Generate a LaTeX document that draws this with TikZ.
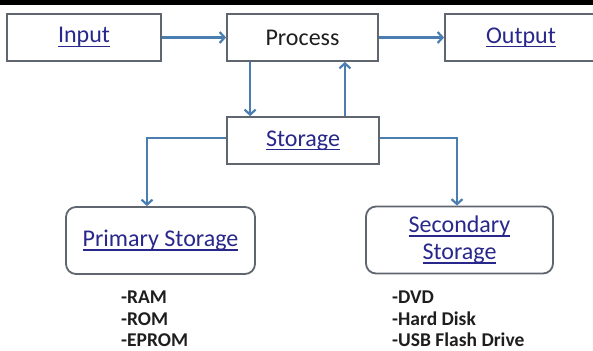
\documentclass[tikz,border=0pt]{standalone}
\usepackage{fontspec}
\setmainfont{Carlito}
\usetikzlibrary{arrows.meta}
\definecolor{boxc}{RGB}{95,102,112}
\definecolor{arrc}{RGB}{74,126,176}
\definecolor{lnkc}{RGB}{40,40,140}
\definecolor{txtc}{RGB}{30,30,30}
\newcommand\lnktxt[1]{\setbox0\hbox{#1}\rlap{\vrule height -2.6pt depth 4.4pt width \wd0}\box0}
\tikzset{
  blk/.style={draw=boxc, line width=1.8pt, fill=white, inner sep=0pt,
    minimum height=47pt, font=\fontsize{24}{27}\selectfont, text=lnkc},
  rblk/.style={blk, rounded corners=10pt, minimum height=67pt, align=center},
  arr/.style={draw=arrc, line width=2.2pt, -{Straight Barb[length=5pt,width=11pt,line width=2.2pt]}},
  lst/.style={anchor=base west, inner sep=0pt, font=\fontsize{19.5}{22}\selectfont\bfseries, text=txtc}
}
\begin{document}
\begin{tikzpicture}[x=1pt,y=-1pt]
\useasboundingbox (0,0) rectangle (593,350);
\fill[black] (0,0) rectangle (593,5);
\node[blk, minimum width=154pt] (input) at (84,37.5) {\lnktxt{Input}};
\node[blk, minimum width=151pt, text=txtc] (process) at (302.5,37.5) {Process};
\node[blk, minimum width=152pt] (output) at (521,37.5) {\lnktxt{Output}};
\node[blk, minimum width=152pt] (storage) at (303,140.5) {\lnktxt{Storage}};
\node[rblk, minimum width=189pt] (primary) at (160.5,240.5) {\lnktxt{Primary Storage}};
\node[rblk, minimum width=187pt] (secondary) at (459.5,240) {\lnktxt{Secondary}\\\lnktxt{Storage}};
\draw[arr] (input.east) -- (process.west);
\draw[arr] (process.east) -- (output.west);
\draw[arr] ([xshift=24pt]process.south west) -- ([xshift=24pt]storage.north west);
\draw[arr] ([xshift=-35pt]storage.north east) -- ([xshift=-35pt]storage.north east |- process.south);
\draw[arr] ([yshift=2.5pt]storage.west) -| ([xshift=-13.5pt]primary.north);
\draw[arr] ([yshift=2.5pt]storage.east) -| ([xshift=-2.5pt]secondary.north);
\node[lst] (ram) at (121,303) {-RAM};
\node[lst] (rom) at (121,325) {-ROM};
\node[lst] (eprom) at (121,346.5) {-EPROM};
\node[lst] (dvd) at (392,303) {-DVD};
\node[lst] (hdd) at (392,325) {-Hard Disk};
\node[lst] (usb) at (392,346.5) {-USB Flash Drive};
\end{tikzpicture}
\end{document}
